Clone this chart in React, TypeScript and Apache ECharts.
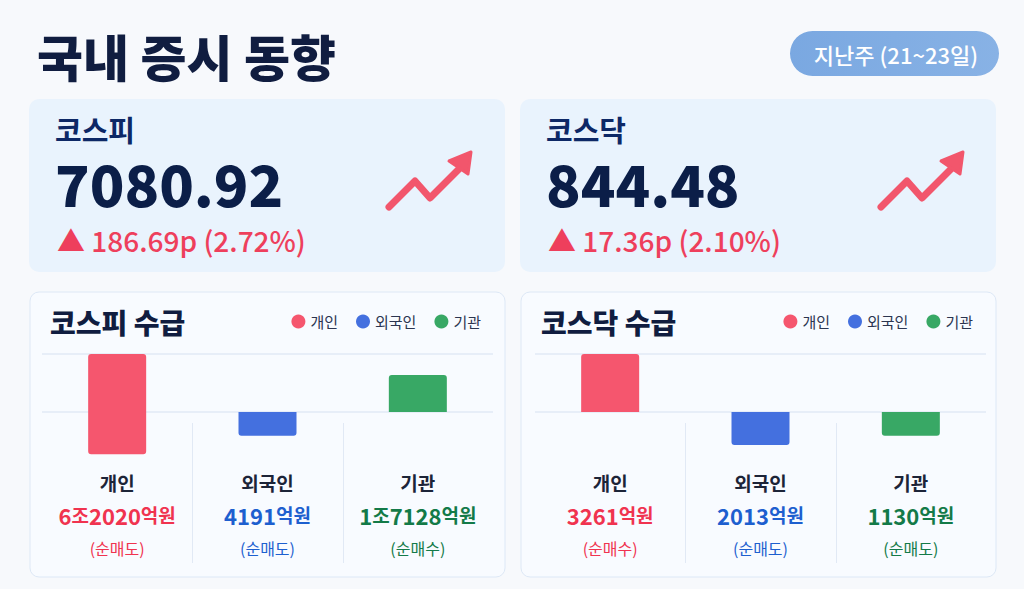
import { useEffect, useRef } from 'react';
import * as echarts from 'echarts';

const FONT = "'Noto Sans CJK KR', 'Noto Sans', sans-serif";

const pageTitle = '국내 증시 동향';
const periodLabel = '지난주 (21~23일)';

const indexNames = ['코스피', '코스닥'];
const indexCloses = ['7080.92', '844.48'];
const indexChanges = [186.69, 17.36];
const indexChangeRates = [2.72, 2.1];

const flowTitles = ['코스피 수급', '코스닥 수급'];
const investors = ['개인', '외국인', '기관'];
// 순매수(+) / 순매도(-), 억원
const kospiNet = [-62020, -4191, 17128];
const kosdaqNet = [3261, -2013, -1130];
// bar extents as drawn in the picture (top gridline = 1, zero line = 0)
const kospiBarUp = [1.0, 0, 0.64];
const kospiBarDown = [-0.73, -0.41, 0];
const kosdaqBarUp = [1.0, 0, 0];
const kosdaqBarDown = [0, -0.57, -0.41];

const investorColors = ['#f5566e', '#4470df', '#38a865'];
const amountColors = ['#f0334f', '#1d5fcf', '#137a48'];

const NAVY = '#101d40';

const cardLefts = [29, 520];
const gridLefts = [42, 535];
const gridWidth = 451;

function amountParts(v: number) {
  const a = Math.abs(v);
  const jo = Math.floor(a / 10000);
  const rest = a % 10000;
  return jo > 0 ? [String(jo), '조', String(rest), '억원'] : [String(rest), '억원'];
}

function labelFormatter(net: number[]) {
  return (_: string, i: number) => {
    const parts = amountParts(net[i]);
    const amt = parts.map((p, k) => (k % 2 === 0 ? `{d${i}|${p}}` : `{u${i}|${p}}`)).join('');
    const note = net[i] < 0 ? '(순매도)' : '(순매수)';
    return `{nm|${investors[i]}}\n${amt}\n{n${i}|${note}}`;
  };
}

function richStyles() {
  const rich: Record<string, object> = {
    nm: { fontSize: 19, fontWeight: 600, color: '#1c2438', lineHeight: 32, fontFamily: FONT },
  };
  investors.forEach((_, i) => {
    rich[`d${i}`] = { fontSize: 22, fontWeight: 700, color: amountColors[i], lineHeight: 33, fontFamily: FONT };
    rich[`u${i}`] = { fontSize: 19, fontWeight: 600, color: amountColors[i], lineHeight: 33, fontFamily: FONT };
    rich[`n${i}`] = { fontSize: 16, fontWeight: 400, color: amountColors[i], lineHeight: 33, fontFamily: FONT };
  });
  return rich;
}

function barSeries(g: number, up: number[], down: number[]) {
  return investors.flatMap((name, i) =>
    [up, down].map((vals, k) => ({
      type: 'bar',
      name,
      xAxisIndex: g,
      yAxisIndex: g,
      stack: `flow${g}`,
      barWidth: 58,
      silent: true,
      data: investors.map((_, j) => (j === i && vals[j] !== 0 ? vals[j] : '-')),
      itemStyle: {
        color: investorColors[i],
        borderRadius: k === 0 ? [3, 3, 0, 0] : [0, 0, 3, 3],
      },
    }))
  );
}

function trendArrow(dx: number) {
  const pts = [
    [389, 207],
    [415, 181],
    [430, 198],
    [459, 169],
  ].map(([x, y]) => [x + dx, y]);
  const head = [
    [449, 161],
    [471, 152],
    [468, 174],
  ].map(([x, y]) => [x + dx, y]);
  return [
    {
      type: 'polyline',
      z: 5,
      shape: { points: pts },
      style: { stroke: '#f2566c', lineWidth: 7, lineCap: 'round', lineJoin: 'round', fill: 'none' },
    },
    {
      type: 'polygon',
      z: 5,
      shape: { points: head },
      style: { fill: '#f2566c', stroke: '#f2566c', lineWidth: 3, lineJoin: 'round' },
    },
  ];
}

export default function App() {
  const chartRef = useRef<HTMLDivElement>(null);

  useEffect(() => {
    if (!chartRef.current) return;
    const chart = echarts.init(chartRef.current, undefined, { renderer: 'svg' });

    const graphics: any[] = [
      {
        type: 'text',
        z: 10,
        x: 37,
        y: 55,
        style: {
          text: pageTitle,
          font: `800 50px ${FONT}`,
          fill: NAVY,
          textVerticalAlign: 'middle',
          lineHeight: 50,
        },
      },
      {
        type: 'rect',
        z: 1,
        shape: { x: 790, y: 31, width: 209, height: 45, r: 22.5 },
        style: {
          fill: new echarts.graphic.LinearGradient(0, 0, 1, 0, [
            { offset: 0, color: '#7aa8e1' },
            { offset: 1, color: '#88b2e5' },
          ]),
        },
      },
      {
        type: 'text',
        z: 10,
        x: 896,
        y: 54,
        style: {
          text: periodLabel,
          font: `500 22px ${FONT}`,
          fill: '#ffffff',
          textAlign: 'center',
          textVerticalAlign: 'middle',
        },
      },
    ];

    indexNames.forEach((name, k) => {
      const cx = cardLefts[k];
      graphics.push(
        {
          type: 'rect',
          z: 0,
          shape: { x: cx, y: 99, width: 476, height: 173, r: 10 },
          style: { fill: '#e9f3fd' },
        },
        {
          type: 'text',
          z: 10,
          x: cx + 26,
          y: 129,
          style: {
            text: name,
            font: `700 29px ${FONT}`,
            fill: '#0d2866',
            textVerticalAlign: 'middle',
            lineHeight: 30,
          },
        },
        {
          type: 'text',
          z: 10,
          x: cx + 26,
          y: 182,
          style: {
            text: indexCloses[k],
            font: `800 57px ${FONT}`,
            fill: '#0b1e48',
            textVerticalAlign: 'middle',
            lineHeight: 46,
          },
        },
        {
          type: 'text',
          z: 10,
          x: cx + 28,
          y: 240,
          style: {
            text: `▲ ${indexChanges[k].toFixed(2)}p (${indexChangeRates[k].toFixed(2)}%)`,
            font: `500 28px ${FONT}`,
            fill: '#ee3f5c',
            textVerticalAlign: 'middle',
            lineHeight: 30,
          },
        },
        ...trendArrow(k === 0 ? 0 : 492),
        {
          type: 'rect',
          z: 0,
          shape: { x: cx + 1, y: 292, width: 475, height: 285, r: 9 },
          style: { fill: '#f8fbff', stroke: '#dde8f6', lineWidth: 1 },
        },
        {
          type: 'text',
          z: 10,
          x: cx + 21,
          y: 322,
          style: {
            text: flowTitles[k],
            font: `800 28px ${FONT}`,
            fill: NAVY,
            textVerticalAlign: 'middle',
          },
        }
      );
      const band = gridWidth / investors.length;
      [1, 2].forEach((j) => {
        const x = Math.round(gridLefts[k] + band * j) + 0.5;
        graphics.push({
          type: 'line',
          z: 1,
          shape: { x1: x, y1: 423, x2: x, y2: 563 },
          style: { stroke: '#e1e9f5', lineWidth: 1 },
        });
      });
    });

    const axisCommon = {
      axisLine: { show: false },
      axisTick: { show: false },
    };

    const option: any = {
      animation: false,
      backgroundColor: '#f7f9fc',
      textStyle: { fontFamily: FONT },
      graphic: graphics,
      legend: [0, 1].map((k) => ({
        data: investors,
        right: k === 0 ? 538 : 46,
        top: 309,
        icon: 'circle',
        itemWidth: 14,
        itemHeight: 14,
        itemGap: 18,
        selectedMode: false,
        textStyle: { fontSize: 15, color: '#2b3550', fontFamily: FONT },
      })),
      grid: [0, 1].map((k) => ({
        left: gridLefts[k],
        width: gridWidth,
        top: 354,
        height: 116,
      })),
      xAxis: [0, 1].map((k) => ({
        type: 'category',
        gridIndex: k,
        data: investors,
        z: 5,
        ...axisCommon,
        axisLabel: {
          margin: -4,
          interval: 0,
          formatter: labelFormatter(k === 0 ? kospiNet : kosdaqNet),
          rich: richStyles(),
        },
      })),
      yAxis: [0, 1].map((k) => ({
        type: 'value',
        gridIndex: k,
        min: -1,
        max: 1,
        interval: 1,
        z: 1,
        ...axisCommon,
        axisLabel: { show: false },
        splitLine: {
          show: true,
          lineStyle: { color: ['transparent', '#e2eaf6', '#e2eaf6'], width: 1.5 },
        },
      })),
      series: [
        ...barSeries(0, kospiBarUp, kospiBarDown),
        ...barSeries(1, kosdaqBarUp, kosdaqBarDown),
      ],
    };

    chart.setOption(option);

    const handleResize = () => chart.resize();
    window.addEventListener('resize', handleResize);
    return () => {
      window.removeEventListener('resize', handleResize);
      chart.dispose();
    };
  }, []);

  return (
    <div
      ref={chartRef}
      style={{ position: 'fixed', left: 0, top: 0, width: 1024, height: 589 }}
    />
  );
}
